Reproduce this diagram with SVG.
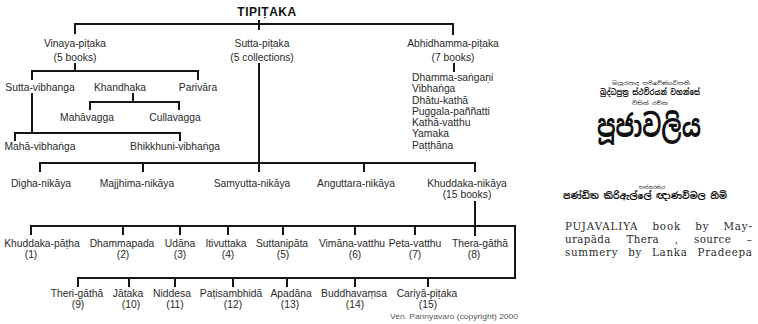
<svg xmlns="http://www.w3.org/2000/svg" width="758" height="324" viewBox="0 0 758 324">
<style>
.l{font-family:"Liberation Sans",Arial,sans-serif;font-size:10.3px;fill:#2a2a2a;text-anchor:middle}
.ls{font-family:"Liberation Sans",Arial,sans-serif;font-size:10.3px;fill:#2a2a2a}
.t{font-family:"Liberation Sans",Arial,sans-serif;font-size:12px;font-weight:bold;fill:#111;text-anchor:middle;letter-spacing:0.5px}
.c{stroke:#151515;stroke-width:2;fill:none}
.si{font-family:"Noto Sans Sinhala","Noto Serif Sinhala","Noto Sans",sans-serif;fill:#111;text-anchor:middle}
.en{font-family:"DejaVu Serif","Liberation Serif",serif;font-size:10.3px;fill:#2a2a2a}
.cp{font-family:"Liberation Sans",Arial,sans-serif;font-size:7.4px;fill:#555}
</style>
<rect width="758" height="324" fill="#ffffff"/>
<g id="connectors" class="c">
<path d="M259,20 V30"/>
<path d="M75,34 V24 H453 V35"/>
<path d="M75,63 V71"/>
<path d="M32,80 V71 H198 V80"/>
<path d="M133,93 V102"/>
<path d="M90,110 V102 H179 V110"/>
<path d="M32,93 V133"/>
<path d="M15,141 V133 H180 V141"/>
<path d="M454,63 V72"/>
<path d="M259,63 V172"/>
<path d="M40,172 V163 H475 V172"/>
<path d="M143,163 V172"/>
<path d="M364,163 V172"/>
<path d="M475,201 V236"/>
<path d="M31,235 V226 H515 V278 H78 V287"/>
<path d="M123,226 V235 M180,226 V235 M228,226 V235 M283,226 V235 M355,226 V235 M415,226 V235"/>
<path d="M129,278 V287 M175,278 V287 M233,278 V287 M287,278 V287 M355,278 V287 M428,278 V287"/>
</g>
<g id="tipitaka"><text class="t" x="267" y="16">TIPIṬAKA</text></g>
<g id="vinaya"><text class="l" x="75" y="47">Vinaya-piṭaka</text><text class="l" x="75" y="61">(5 books)</text></g>
<g id="sutta"><text class="l" x="262" y="47">Sutta-piṭaka</text><text class="l" x="262" y="61">(5 collections)</text></g>
<g id="abhidhamma"><text class="l" x="453" y="47">Abhidhamma-piṭaka</text><text class="l" x="453" y="61">(7 books)</text></g>
<g id="abhidhamma-books">
<text class="ls" x="412" y="81">Dhamma-saṅgaṇi</text>
<text class="ls" x="412" y="92">Vibhaṅga</text>
<text class="ls" x="412" y="103.5">Dhātu-kathā</text>
<text class="ls" x="412" y="115">Puggala-paññatti</text>
<text class="ls" x="412" y="126">Kathā-vatthu</text>
<text class="ls" x="412" y="137">Yamaka</text>
<text class="ls" x="412" y="148.5">Paṭṭhāna</text>
</g>
<g id="sutta-vibhanga"><text class="l" x="40" y="91">Sutta-vibhanga</text></g>
<g id="khandhaka"><text class="l" x="120" y="91">Khandhaka</text></g>
<g id="parivara"><text class="l" x="198" y="91">Parivāra</text></g>
<g id="mahavagga"><text class="l" x="87" y="121">Mahāvagga</text></g>
<g id="cullavagga"><text class="l" x="175" y="121">Cullavagga</text></g>
<g id="maha-vibhanga"><text class="l" x="40" y="150">Mahā-vibhaṅga</text></g>
<g id="bhikkhuni-vibhanga"><text class="l" x="175" y="150">Bhikkhuni-vibhaṅga</text></g>
<g id="digha"><text class="l" x="41" y="187">Digha-nikāya</text></g>
<g id="majjhima"><text class="l" x="137" y="187">Majjhima-nikāya</text></g>
<g id="samyutta"><text class="l" x="252" y="187">Samyutta-nikāya</text></g>
<g id="anguttara"><text class="l" x="356" y="187">Anguttara-nikāya</text></g>
<g id="khuddaka"><text class="l" x="467" y="187">Khuddaka-nikāya</text><text class="l" x="467" y="198">(15 books)</text></g>
<g id="k1"><text class="l" x="42" y="247">Khuddaka-pāṭha</text><text class="l" x="31" y="258">(1)</text></g>
<g id="k2"><text class="l" x="122" y="247">Dhammapada</text><text class="l" x="123" y="258">(2)</text></g>
<g id="k3"><text class="l" x="180" y="247">Udāna</text><text class="l" x="180" y="258">(3)</text></g>
<g id="k4"><text class="l" x="226" y="247">Itivuttaka</text><text class="l" x="228" y="258">(4)</text></g>
<g id="k5"><text class="l" x="282" y="247">Suttanipāta</text><text class="l" x="283" y="258">(5)</text></g>
<g id="k6"><text class="l" x="352" y="247">Vimāna-vatthu</text><text class="l" x="355" y="258">(6)</text></g>
<g id="k7"><text class="l" x="415" y="247">Peta-vatthu</text><text class="l" x="415" y="258">(7)</text></g>
<g id="k8"><text class="l" x="480" y="247">Thera-gāthā</text><text class="l" x="474" y="258">(8)</text></g>
<g id="k9"><text class="l" x="77" y="297">Theri-gāthā</text><text class="l" x="78" y="308">(9)</text></g>
<g id="k10"><text class="l" x="128" y="297">Jātaka</text><text class="l" x="131" y="308">(10)</text></g>
<g id="k11"><text class="l" x="172" y="297">Niddesa</text><text class="l" x="175" y="308">(11)</text></g>
<g id="k12"><text class="l" x="231" y="297">Paṭisambhidā</text><text class="l" x="233" y="308">(12)</text></g>
<g id="k13"><text class="l" x="291" y="297">Apadāna</text><text class="l" x="290" y="308">(13)</text></g>
<g id="k14"><text class="l" x="354" y="297">Buddhavaṃsa</text><text class="l" x="355" y="308">(14)</text></g>
<g id="k15"><text class="l" x="427" y="297">Cariyā-piṭaka</text><text class="l" x="428" y="308">(15)</text></g>
<g id="copyright"><text class="cp" x="390" y="319" textLength="128" lengthAdjust="spacingAndGlyphs">Ven. Pannyavaro (copyright) 2000</text></g>
<g id="book-cover">
<text class="si" x="651" y="85" font-size="5" textLength="78" lengthAdjust="spacingAndGlyphs">මයුරපාද පරිවේණාධිපති</text>
<text class="si" x="650" y="95" font-size="8" font-weight="bold" textLength="100" lengthAdjust="spacingAndGlyphs">බුද්ධපුත්‍ර ස්ථවිරයන් වහන්සේ</text>
<text class="si" x="650" y="105" font-size="5" textLength="36" lengthAdjust="spacingAndGlyphs">විසින් රචිත</text>
<text class="si" x="649" y="137" font-size="31" font-weight="bold" textLength="104" lengthAdjust="spacingAndGlyphs">පූජාවලිය</text>
<text class="si" x="652" y="189" font-size="5" textLength="26" lengthAdjust="spacingAndGlyphs">සංස්කරණය</text>
<text class="si" x="645" y="199" font-size="9" font-weight="bold" textLength="164" lengthAdjust="spacingAndGlyphs">පණ්ඩිත කිරිඇල්ලේ ඥාණවිමල හිමි</text>
</g>
<g id="caption">
<text class="en" x="565" y="230" textLength="187" lengthAdjust="spacing" style="word-spacing:10px">PUJAVALIYA  book by May-</text>
<text class="en" x="565" y="243" textLength="187" lengthAdjust="spacing" style="word-spacing:12px">urapāda Thera , source –</text>
<text class="en" x="565" y="256" textLength="187" lengthAdjust="spacing" style="word-spacing:6px">summery by  Lanka Pradeepa</text>
</g>
</svg>
